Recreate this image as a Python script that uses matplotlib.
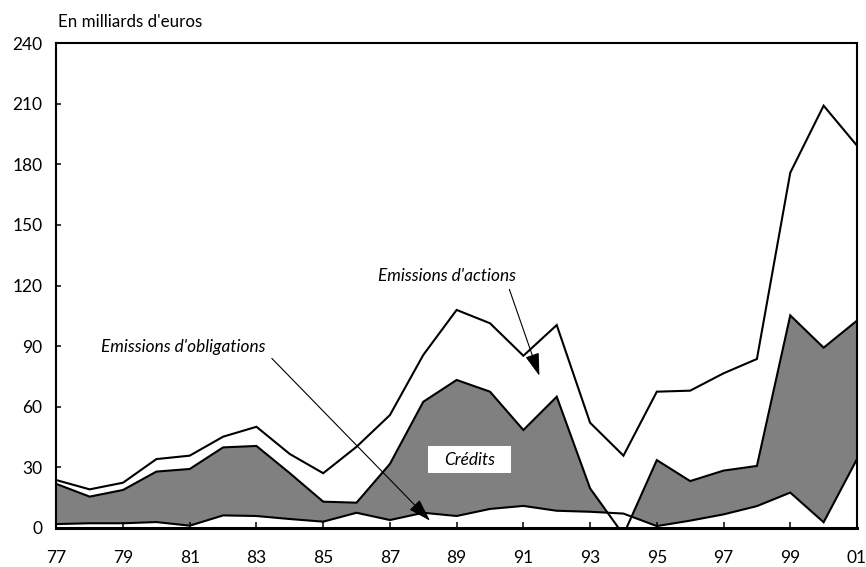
import matplotlib
matplotlib.use('Agg')
import matplotlib.pyplot as plt
from matplotlib.patches import Rectangle
import numpy as np

# Années (77 = 1977 ... 101 = 2001)
years = np.arange(77, 102)

# Niveaux (en milliards d'euros)
# courbe basse : émissions d'obligations
obligations = [1.8, 2.2, 2.2, 2.8, 1.0, 6.1, 5.8, 4.3, 3.0, 7.4, 3.8, 7.4, 5.8,
               9.3, 10.8, 8.4, 7.9, 7.0, 0.8, 3.5, 6.6, 10.7, 17.4, 2.7, 34.0]
# courbe du milieu : obligations + crédits
oblig_credits = [21.7, 15.4, 18.7, 27.8, 29.1, 39.8, 40.5, 27.0, 12.9, 12.4, 31.6, 62.4, 73.2,
                 67.4, 48.4, 64.9, 19.5, -3.5, 33.5, 23.1, 28.3, 30.6, 105.2, 89.2, 102.6]
# courbe haute : total avec émissions d'actions
total = [23.6, 19.0, 22.3, 34.0, 35.7, 45.1, 50.0, 36.5, 27.0, 40.1, 55.8, 85.6, 107.9,
         101.3, 85.2, 100.4, 52.0, 35.7, 67.4, 67.9, 76.5, 83.6, 175.9, 209.1, 189.3]

xticks = list(range(77, 102, 2))
xticklabels = ['%02d' % (y % 100) for y in xticks]
yticks = list(range(0, 241, 30))

plt.rcParams['font.family'] = ['Lato', 'DejaVu Sans']

fig = plt.figure(figsize=(8.66, 5.67), dpi=100)
ax = fig.add_axes([0.0650, 0.0693, 0.9246, 0.8543])

obl = np.array(obligations)
mid = np.array(oblig_credits)
top = np.array(total)

ax.fill_between(years, obl, mid, where=mid >= obl, interpolate=True,
                color='#808080', linewidth=0)
for serie in (obl, mid, top):
    ax.plot(years, serie, color='black', lw=1.5, solid_joinstyle='miter')

ax.set_xlim(77, 101)
ax.set_ylim(0, 240)
ax.set_xticks(xticks)
ax.set_xticklabels(xticklabels)
ax.set_yticks(yticks)

ax.tick_params(axis='x', direction='in', length=4.5, width=1.1, pad=16, labelsize=12.5)
ax.tick_params(axis='y', direction='in', length=3.5, width=1.1, pad=10, labelsize=12.5)
for side in ('left', 'top', 'right'):
    ax.spines[side].set_linewidth(1.5)
ax.spines['bottom'].set_linewidth(2.2)

# Titre de l'axe
fig.text(0.067, 0.961, "En milliards d'euros", fontsize=12.2, va='center', ha='left')

# Étiquettes et flèches
arrow = dict(arrowstyle='-|>,head_length=0.7,head_width=0.22', color='black',
             lw=0.8, shrinkA=0, shrinkB=0, mutation_scale=20)
ax.text(80.8, 89.7, "Emissions d'obligations", style='italic', fontsize=12.4,
        ha='center', va='center')
ax.annotate('', xy=(88.2, 3.5), xytext=(83.46, 83.9), arrowprops=arrow)

ax.text(88.7, 124.7, "Emissions d'actions", style='italic', fontsize=12.4,
        ha='center', va='center')
ax.annotate('', xy=(91.48, 75.3), xytext=(90.58, 118.1), arrowprops=arrow)

ax.add_patch(Rectangle((88.15, 27.0), 2.47, 13.5, facecolor='white',
                       edgecolor='none', zorder=3))
ax.text(89.39, 33.6, 'Crédits', style='italic', fontsize=12.4,
        ha='center', va='center', zorder=4)

fig.savefig('out.png', dpi=100)
